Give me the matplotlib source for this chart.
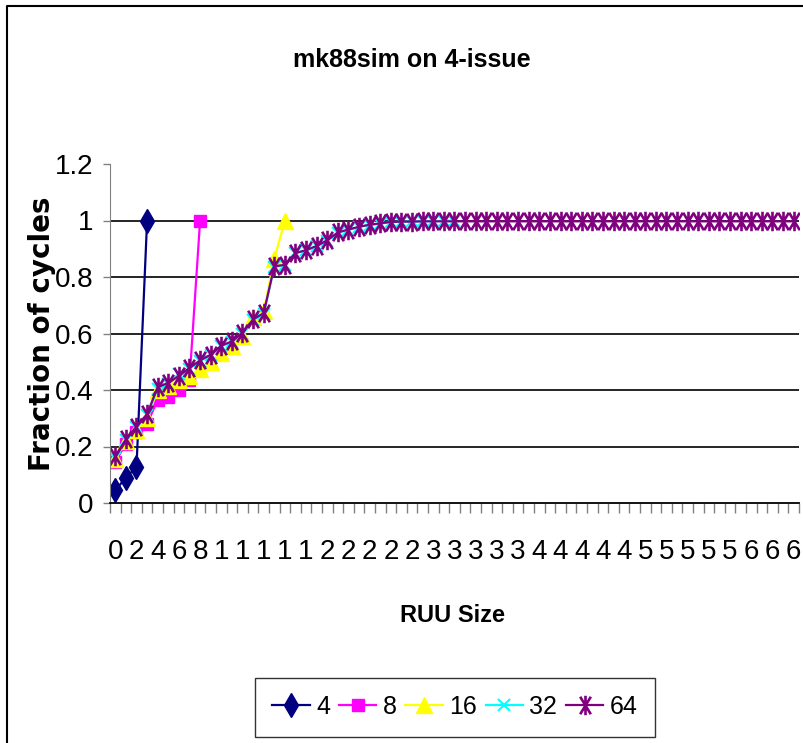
import matplotlib.pyplot as plt
from matplotlib.path import Path
from matplotlib.lines import Line2D

# RUU size categories (0..64) and the truncated labels Excel shows on every 2nd one
ruu_sizes = [str(i) for i in range(65)]
x_tick_labels = ["0", "2", "4", "6", "8",
                 "1", "1", "1", "1", "1",
                 "2", "2", "2", "2", "2",
                 "3", "3", "3", "3", "3",
                 "4", "4", "4", "4", "4",
                 "5", "5", "5", "5", "5",
                 "6", "6", "6"]

# fraction of cycles, one list per RUU configuration
ruu_4 = [0.045, 0.09, 0.128, 1.0]
ruu_8 = [0.146, 0.21, 0.25, 0.28, 0.365, 0.375, 0.40, 0.435, 1.0]
ruu_16 = [0.155, 0.22, 0.26, 0.30, 0.40, 0.415, 0.435, 0.45, 0.475, 0.50,
          0.53, 0.555, 0.59, 0.66, 0.68, 0.865, 1.0]
ruu_32 = [0.16, 0.222, 0.268, 0.31, 0.405, 0.42, 0.458, 0.475, 0.503, 0.523,
          0.555, 0.57, 0.60, 0.648, 0.67, 0.836, 0.842, 0.884, 0.894, 0.909,
          0.929, 0.957, 0.967, 0.977, 0.984, 0.989, 0.994, 0.996, 0.997, 0.998,
          0.998, 0.999, 1.0]
ruu_64 = [0.165, 0.225, 0.27, 0.315, 0.41, 0.425, 0.45, 0.478, 0.505, 0.525,
          0.557, 0.572, 0.603, 0.65, 0.672, 0.838, 0.843, 0.885, 0.895, 0.91,
          0.93, 0.958, 0.968, 0.978, 0.985, 0.99, 0.995, 0.996, 0.996, 0.997,
          0.997, 0.997, 0.997, 0.997, 0.997, 0.997, 0.997, 0.997, 0.997, 0.997,
          0.997, 0.997, 0.997, 0.997, 0.997, 0.997, 0.997, 0.997, 0.997, 0.997,
          0.997, 0.997, 0.997, 0.997, 0.997, 0.997, 0.997, 0.997, 0.997, 0.997,
          0.997, 0.997, 0.997, 0.997, 0.997]

series = [("4", ruu_4), ("8", ruu_8), ("16", ruu_16), ("32", ruu_32), ("64", ruu_64)]

plt.rcParams["font.family"] = ["Liberation Sans", "DejaVu Sans"]

# Excel style star: vertical bar plus an X
star = Path([(0, -1), (0, 1), (-0.55, -0.9), (0.55, 0.9), (-0.55, 0.9), (0.55, -0.9)],
            [Path.MOVETO, Path.LINETO, Path.MOVETO, Path.LINETO, Path.MOVETO, Path.LINETO])

styles = {
    "4": dict(color="#000080", marker="d", markersize=12),
    "8": dict(color="#FF00FF", marker="s", markersize=8),
    "16": dict(color="#FFFF00", marker="^", markersize=11),
    "32": dict(color="#00FFFF", marker="x", markersize=9, markeredgewidth=1.5),
    "64": dict(color="#800080", marker=star, markersize=14, markeredgewidth=1.9),
}

fig = plt.figure(figsize=(8.04, 7.43), dpi=100)
ax = fig.add_axes([110 / 804, 1 - 503 / 743, 689 / 804, 339 / 743])

for name, vals in series:
    xs = list(range(len(vals)))
    ax.plot(xs, vals, linewidth=1.6, label=name, **styles[name])

ax.set_xlim(-0.5, len(ruu_sizes) - 0.5)
ax.set_ylim(0, 1.2)

# y axis
ax.set_yticks([0, 0.2, 0.4, 0.6, 0.8, 1.0, 1.2])
ax.set_yticklabels(["0", "0.2", "0.4", "0.6", "0.8", "1", "1.2"], fontsize=20)
ax.tick_params(axis="y", direction="out", length=5, width=1, color="#808080", pad=7)
for yv in [0.2, 0.4, 0.6, 0.8, 1.0]:
    ax.axhline(yv, color="black", linewidth=1.2, zorder=0)

# x axis: tick marks between categories, labels on every second category
ax.set_xticks([i - 0.5 for i in range(len(ruu_sizes) + 1)], minor=True)
ax.set_xticks(list(range(0, len(ruu_sizes), 2)))
ax.set_xticklabels(x_tick_labels, fontsize=20)
ax.tick_params(axis="x", which="major", length=0, pad=26)
ax.tick_params(axis="x", which="minor", direction="out", length=7, width=1, color="#808080")

for side in ["top", "right"]:
    ax.spines[side].set_visible(False)
ax.spines["left"].set_color("#808080")
ax.spines["bottom"].set_color("black")
ax.spines["bottom"].set_linewidth(1.3)

fig.text(412 / 804, 1 - 60 / 743, "mk88sim on 4-issue", ha="center", va="center",
         fontsize=18, fontweight="bold")
fig.text(453 / 804, 1 - 615 / 743, "RUU Size", ha="center", va="center",
         fontsize=17, fontweight="bold")
fig.text(42 / 804, 1 - 334 / 743, "Fraction of cycles", ha="center", va="center",
         rotation=90, fontsize=20, fontweight="bold", family="DejaVu Sans")

leg = fig.legend(loc="center", bbox_to_anchor=(455 / 804, 1 - 707 / 743), ncol=5,
                 fontsize=18, frameon=True, fancybox=False, edgecolor="black",
                 handlelength=1.5, handletextpad=0.25, columnspacing=0.35,
                 borderpad=0.7)
leg.get_frame().set_linewidth(1.0)

# chart area border (left and top edges visible)
fig.add_artist(Line2D([7 / 804, 7 / 804, 1.0], [0.0, 1 - 6 / 743, 1 - 6 / 743],
                      transform=fig.transFigure, color="black", linewidth=1.5))

fig.savefig("out.png", dpi=100)
